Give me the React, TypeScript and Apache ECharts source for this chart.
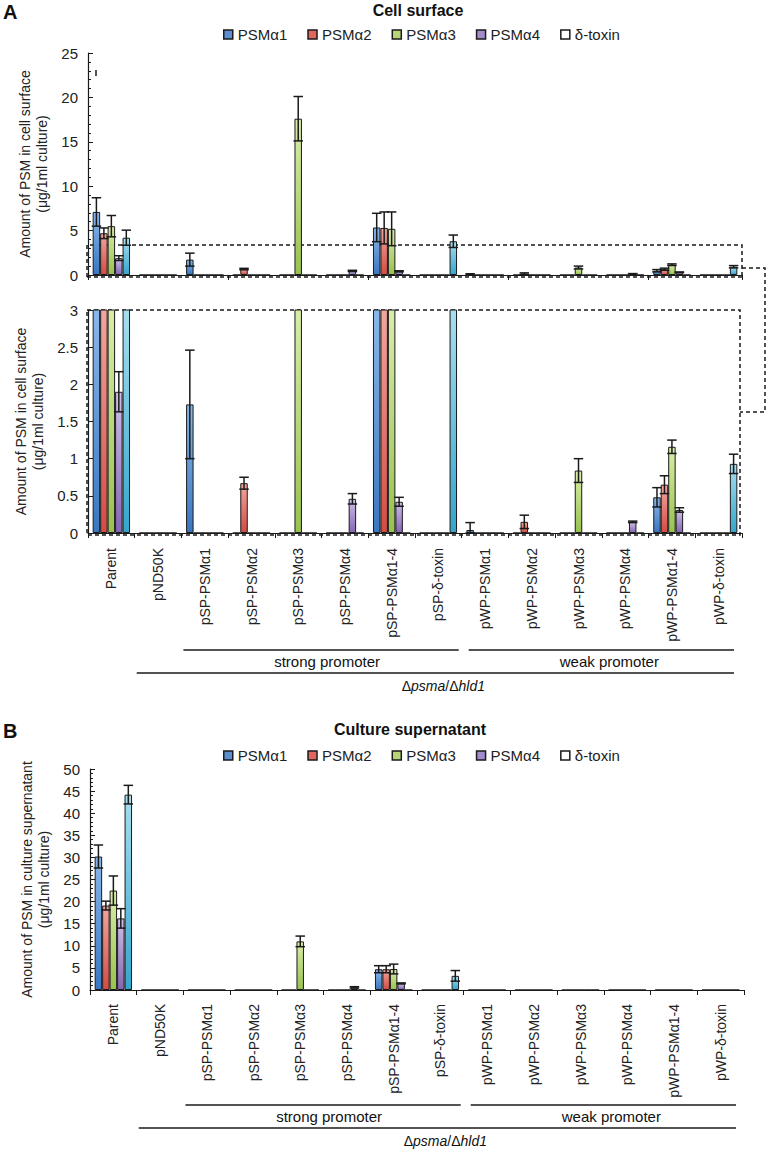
import React, { useEffect, useRef } from "react";
import * as echarts from "echarts";

const FONT = "'Liberation Sans', Arial, Helvetica, sans-serif";

const categories = [
  "Parent", "pND50K", "pSP-PSMα1", "pSP-PSMα2", "pSP-PSMα3", "pSP-PSMα4", "pSP-PSMα1-4", "pSP-δ-toxin",
  "pWP-PSMα1", "pWP-PSMα2", "pWP-PSMα3", "pWP-PSMα4", "pWP-PSMα1-4", "pWP-δ-toxin",
];
const seriesNames = ["PSMα1", "PSMα2", "PSMα3", "PSMα4", "δ-toxin"];

// Panel A: cell surface (µg/1ml culture)
const surfA1 = [7.1, 0, 1.73, 0, 0, 0, 5.35, 0, 0.04, 0, 0, 0, 0.48, 0];
const surfA1Err = [1.6, 0, 0.73, 0, 0, 0, 1.6, 0, 0.1, 0, 0, 0, 0.13, 0];
const surfA2 = [4.7, 0, 0, 0.67, 0, 0, 5.3, 0, 0, 0.15, 0, 0, 0.65, 0];
const surfA2Err = [0.6, 0, 0, 0.08, 0, 0, 1.8, 0, 0, 0.09, 0, 0, 0.12, 0];
const surfA3 = [5.5, 0, 0, 0, 17.6, 0, 5.2, 0, 0, 0, 0.84, 0, 1.16, 0];
const surfA3Err = [1.2, 0, 0, 0, 2.5, 0, 1.9, 0, 0, 0, 0.16, 0, 0.09, 0];
const surfA4 = [1.9, 0, 0, 0, 0, 0.46, 0.42, 0, 0, 0, 0, 0.15, 0.31, 0];
const surfA4Err = [0.27, 0, 0, 0, 0, 0.07, 0.06, 0, 0, 0, 0, 0.01, 0.03, 0];
const surfDelta = [4.2, 0, 0, 0, 0, 0, 0, 3.8, 0, 0, 0, 0, 0, 0.93];
const surfDeltaErr = [0.85, 0, 0, 0, 0, 0, 0, 0.7, 0, 0, 0, 0, 0, 0.13];

// Panel B: culture supernatant (µg/1ml culture)
const supA1 = [30.2, 0, 0, 0, 0, 0, 4.7, 0, 0, 0, 0, 0, 0, 0];
const supA1Err = [2.6, 0, 0, 0, 0, 0, 0.8, 0, 0, 0, 0, 0, 0, 0];
const supA2 = [19.1, 0, 0, 0, 0, 0, 4.7, 0, 0, 0, 0, 0, 0, 0];
const supA2Err = [1.0, 0, 0, 0, 0, 0, 0.8, 0, 0, 0, 0, 0, 0, 0];
const supA3 = [22.5, 0, 0, 0, 11.0, 0, 4.75, 0, 0, 0, 0, 0, 0, 0];
const supA3Err = [3.3, 0, 0, 0, 1.2, 0, 1.1, 0, 0, 0, 0, 0, 0, 0];
const supA4 = [16.2, 0, 0, 0, 0, 0.6, 1.5, 0, 0, 0, 0, 0, 0, 0];
const supA4Err = [2.2, 0, 0, 0, 0, 0.15, 0.1, 0, 0, 0, 0, 0, 0, 0];
const supDelta = [44.2, 0, 0, 0, 0, 0, 0, 3.2, 0, 0, 0, 0, 0, 0];
const supDeltaErr = [2.1, 0, 0, 0, 0, 0, 0, 1.2, 0, 0, 0, 0, 0, 0];

const surfValues = [surfA1, surfA2, surfA3, surfA4, surfDelta];
const surfErrors = [surfA1Err, surfA2Err, surfA3Err, surfA4Err, surfDeltaErr];
const supValues = [supA1, supA2, supA3, supA4, supDelta];
const supErrors = [supA1Err, supA2Err, supA3Err, supA4Err, supDeltaErr];

const darkColors = ["#3a77c0", "#d24c44", "#98c24e", "#8566b3", "#33a6cc"];
const lightColors = ["#8ab7ea", "#f2a69f", "#d9eda9", "#cfc0e8", "#a8def0"];
const legendColors = ["#5b8fd2", "#e0665e", "#b8d678", "#a38ccc", "#ffffff"];

const INK = "#1a1a1a";

// layout
const PLOT_W = 654;
const BAND = PLOT_W / categories.length;
const A_LEFT = 88;
const B_LEFT = 90;

function barSeries(idx: number, grid: number, values: number[]) {
  return {
    type: "bar",
    name: seriesNames[idx],
    xAxisIndex: grid,
    yAxisIndex: grid,
    data: values,
    barGap: "0%",
    barCategoryGap: "20%",
    clip: true,
    silent: true,
    z: 2,
    itemStyle: {
      color: new echarts.graphic.LinearGradient(0, 0, 0, 1, [
        { offset: 0, color: lightColors[idx] },
        { offset: 1, color: darkColors[idx] },
      ]),
      borderColor: INK,
      borderWidth: 1,
    },
  };
}

function errSeries(idx: number, grid: number, values: number[], errs: number[], yMax: number) {
  const data = values
    .map((v, i) => [i, v, errs[i]])
    .filter((d) => d[2] > 0 && d[1] + d[2] <= yMax);
  return {
    type: "custom",
    name: seriesNames[idx] + " error",
    xAxisIndex: grid,
    yAxisIndex: grid,
    data,
    z: 5,
    silent: true,
    encode: { x: 0, y: 1 },
    renderItem: (_params: any, api: any) => {
      const ci = api.value(0);
      const v = api.value(1);
      const e = api.value(2);
      const band = api.size([1, 0])[0];
      const bw = (band * 0.8) / 5;
      const cx = api.coord([ci, v])[0] - band * 0.4 + (idx + 0.5) * bw;
      const yTop = api.coord([ci, v + e])[1];
      const yBot = api.coord([ci, Math.max(v - e, 0)])[1];
      const half = bw / 2 + 1;
      const st = { stroke: INK, lineWidth: 1.5 };
      return {
        type: "group",
        children: [
          { type: "line", shape: { x1: cx, y1: yTop, x2: cx, y2: yBot }, style: st },
          { type: "line", shape: { x1: cx - half, y1: yTop, x2: cx + half, y2: yTop }, style: st },
          { type: "line", shape: { x1: cx - half, y1: yBot, x2: cx + half, y2: yBot }, style: st },
        ],
      };
    },
  };
}

function yAxis(grid: number, max: number, interval: number, name: string, minor: boolean, nameGap: number) {
  return {
    gridIndex: grid,
    type: "value",
    min: 0,
    max,
    interval,
    name,
    nameLocation: "middle",
    nameGap,
    nameTextStyle: { fontSize: 14, lineHeight: 17, color: "#222", fontFamily: FONT },
    axisLine: { show: true, lineStyle: { color: INK, width: 1.2 } },
    axisTick: { show: true, inside: true, length: 5, lineStyle: { color: INK } },
    minorTick: { show: minor, splitNumber: 5, length: 3, lineStyle: { color: INK } },
    splitLine: { show: false },
    axisLabel: { fontSize: 15, color: "#222", margin: 10, fontFamily: FONT },
  };
}

function xAxis(grid: number, showLabels: boolean, margin = 14) {
  return {
    gridIndex: grid,
    type: "category",
    data: categories,
    axisLine: { show: true, lineStyle: { color: INK, width: 1.2 } },
    axisTick: { show: true, length: 5, lineStyle: { color: INK } },
    axisLabel: showLabels
      ? { rotate: 90, fontSize: 14, color: "#222", margin, interval: 0, fontFamily: FONT }
      : { show: false },
  };
}

function legendFor(top: number) {
  return {
    top,
    left: 218,
    icon: "rect",
    itemWidth: 9,
    itemHeight: 9,
    itemGap: 20,
    selectedMode: false,
    textStyle: { fontSize: 15, color: "#222", fontFamily: FONT },
    data: seriesNames.map((n, i) => ({
      name: n,
      itemStyle: { color: legendColors[i], borderColor: INK, borderWidth: 1.5 },
    })),
  };
}

const dash = { stroke: INK, lineWidth: 1.5, lineDash: [4, 3], fill: null };
const solid = { stroke: INK, lineWidth: 1.5 };

function line(x1: number, y1: number, x2: number, y2: number) {
  return { type: "line", shape: { x1, y1, x2, y2 }, style: solid, silent: true };
}
function text(x: number, y: number, t: string, size: number, bold = false, rich?: any) {
  return {
    type: "text",
    x,
    y,
    silent: true,
    style: {
      text: t,
      fontSize: size,
      fontWeight: bold ? "bold" : "normal",
      fontFamily: FONT,
      fill: "#111",
      align: "center",
      verticalAlign: "middle",
      rich,
    },
  };
}

const italicRich = { i: { fontStyle: "italic", fontSize: 14, fontFamily: FONT, fill: "#111" } };

function brackets(left: number, y: number) {
  const sx1 = left + 2 * BAND + 2;
  const sx2 = left + 8 * BAND - 3;
  const wx1 = left + 8 * BAND + 7;
  const wx2 = left + 14 * BAND - 8;
  const dx1 = left + BAND + 2;
  return [
    line(sx1, y, sx2, y),
    text((sx1 + sx2) / 2 + 6, y + 11, "strong promoter", 15),
    line(wx1, y, wx2, y),
    text((wx1 + wx2) / 2 + 8, y + 11, "weak promoter", 15),
    line(dx1, y + 23, wx2, y + 23),
    text((dx1 + wx2) / 2 + 8, y + 36, "Δ{i|psma}/Δ{i|hld1}", 14, false, italicRich),
  ];
}

export default function App() {
  const ref = useRef<HTMLDivElement>(null);
  useEffect(() => {
    if (!ref.current) return;
    const chart = echarts.init(ref.current, undefined, { renderer: "svg" });
    const series: any[] = [];
    for (let i = 0; i < 5; i++) series.push(barSeries(i, 0, surfValues[i]));
    for (let i = 0; i < 5; i++) series.push(barSeries(i, 1, surfValues[i]));
    for (let i = 0; i < 5; i++) series.push(barSeries(i, 2, supValues[i]));
    for (let i = 0; i < 5; i++) series.push(errSeries(i, 0, surfValues[i], surfErrors[i], 25));
    for (let i = 0; i < 5; i++) series.push(errSeries(i, 1, surfValues[i], surfErrors[i], 3));
    for (let i = 0; i < 5; i++) series.push(errSeries(i, 2, supValues[i], supErrors[i], 50));

    const option: any = {
      animation: false,
      textStyle: { fontFamily: FONT },
      grid: [
        { left: A_LEFT, top: 53, width: PLOT_W, height: 222 },
        { left: A_LEFT, top: 310, width: PLOT_W, height: 223 },
        { left: B_LEFT, top: 769, width: PLOT_W, height: 221 },
      ],
      legend: [legendFor(22), legendFor(743)],
      xAxis: [xAxis(0, false), xAxis(1, true, 15), xAxis(2, true, 14)],
      yAxis: [
        yAxis(0, 25, 5, "Amount of PSM in cell surface\n(μg/1ml culture)", true, 29),
        yAxis(1, 3, 0.5, "Amount of PSM in cell surface\n(μg/1ml culture)", false, 29),
        yAxis(2, 50, 5, "Amount of PSM in culture supernatant\n(μg/1ml culture)", true, 31),
      ],
      series,
      graphic: [
        { type: "text", x: 3, y: 2, silent: true, style: { text: "A", fontSize: 20, fontWeight: "bold", fontFamily: FONT, fill: "#111" } },
        text(418, 10, "Cell surface", 16, true),
        // zoom box on top chart
        { type: "polyline", silent: true, shape: { points: [[87, 277], [742, 277]] }, style: dash },
        { type: "polyline", silent: true, shape: { points: [[87, 277], [87, 245], [742, 245], [742, 277]] }, style: dash },
        { type: "polyline", silent: true, shape: { points: [[742, 268], [765, 268], [765, 412], [740, 412]] }, style: dash },
        { type: "polyline", silent: true, shape: { points: [[87, 310], [740, 310], [740, 535], [87, 535], [87, 310]] }, style: dash },
        { type: "line", silent: true, shape: { x1: 96, y1: 70, x2: 96, y2: 76 }, style: solid },
        ...brackets(A_LEFT, 650),
        // Panel B
        { type: "text", x: 3, y: 721, silent: true, style: { text: "B", fontSize: 20, fontWeight: "bold", fontFamily: FONT, fill: "#111" } },
        text(410, 729, "Culture supernatant", 16, true),
        ...brackets(B_LEFT, 1105),
      ],
    };
    chart.setOption(option);
    return () => chart.dispose();
  }, []);
  return (
    <div
      ref={ref}
      style={{ position: "absolute", left: 0, top: 0, width: 768, height: 1150, background: "#fff" }}
    />
  );
}
